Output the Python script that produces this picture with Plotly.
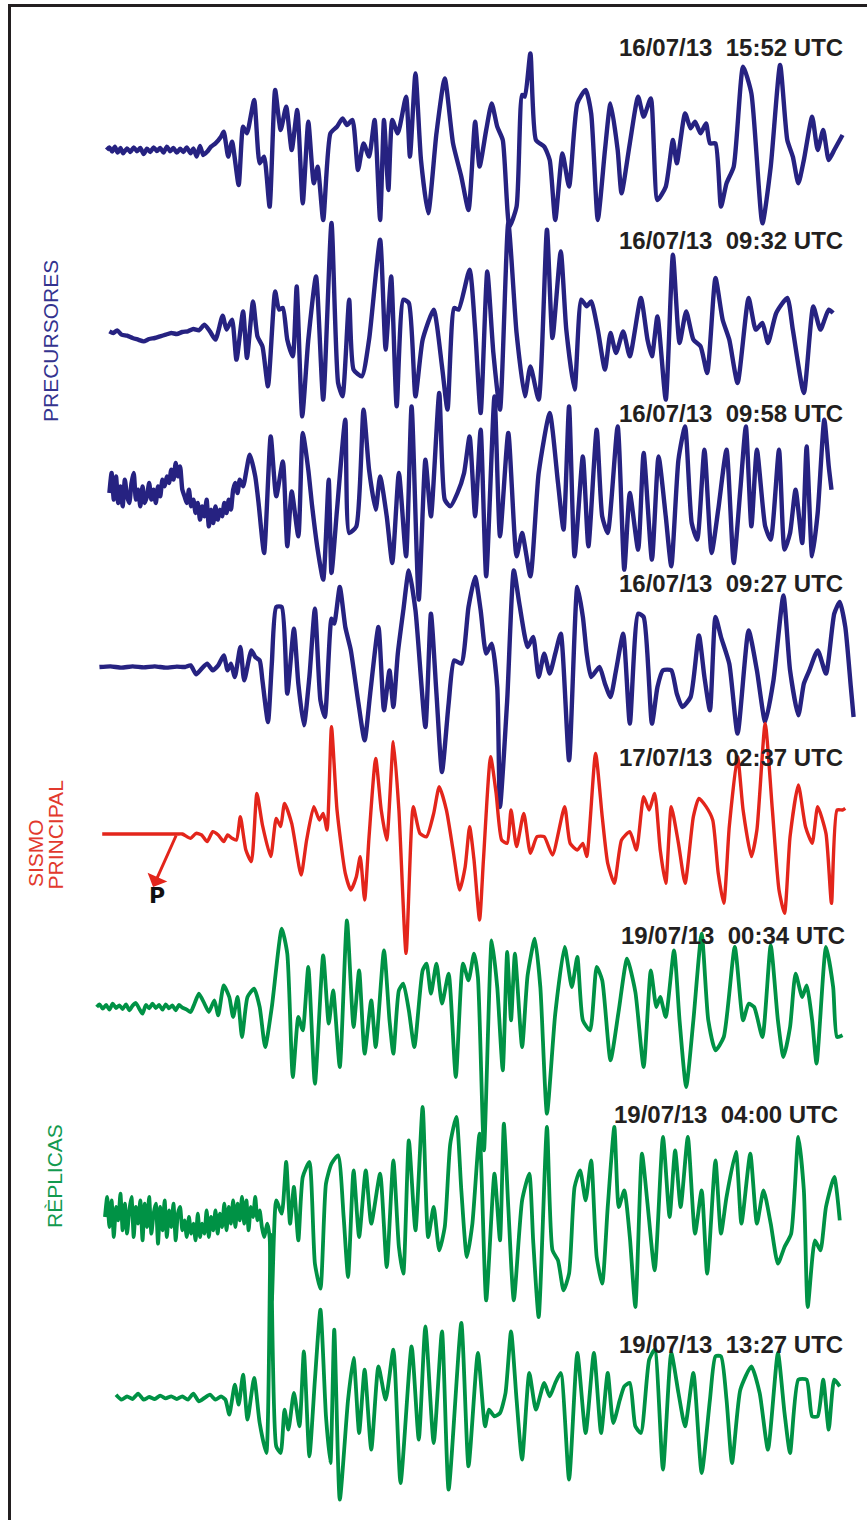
import plotly.graph_objects as go

# ---------------- data: (time sample, amplitude count) readings per record ----------------
rec_160713_1552 = [(193,0),(198,8),(203,-5),(208,10),(213,-8),(218,6),(223,-10),(230,5),(236,-6),(242,8),(248,-4),(254,6),(260,-12),(266,4),(272,-6),(278,8),(284,-3),(290,6),(296,-8),(302,10),(308,-4),(314,6),(320,-8),(326,4),(332,-6),(338,8),(345,-10),(350,5),(356,-20),(362,12),(368,-15),(375,-5),(382,10),(390,20),(400,40),(405,55),(413,-20),(420,25),(432,-105),(440,70),(447,50),(460,150),(470,-40),(478,-20),(488,-170),(498,180),(508,60),(518,130),(528,0),(538,120),(548,-160),(558,85),(568,-100),(575,-50),(585,-210),(598,50),(610,70),(620,95),(628,75),(638,90),(648,-60),(658,20),(668,-20),(678,90),(688,-210),(695,90),(703,-120),(710,90),(720,50),(735,160),(742,-20),(752,230),(762,-30),(775,-190),(790,50),(805,215),(820,20),(835,-80),(848,-180),(860,85),(868,-50),(880,60),(890,140),(900,70),(910,30),(922,-230),(935,-170),(945,165),(950,160),(960,290),(970,30),(985,10),(995,-30),(1005,-210),(1018,-10),(1030,-110),(1045,140),(1060,180),(1070,110),(1082,-210),(1095,0),(1105,140),(1118,0),(1125,-130),(1140,20),(1155,160),(1165,100),(1178,155),(1190,-150),(1205,-110),(1218,30),(1225,-40),(1240,110),(1250,65),(1258,85),(1268,50),(1278,80),(1285,20),(1295,20),(1305,-170),(1315,-100),(1328,-50),(1345,250),(1360,170),(1380,-220),(1395,-50),(1412,255),(1425,30),(1435,-20),(1445,-100),(1455,-30),(1470,100),(1480,0),(1490,60),(1500,-30),(1510,0),(1525,45)]

rec_160713_0932 = [(198,5),(205,0),(212,8),(220,-5),(230,-8),(240,-15),(250,-20),(260,-25),(270,-18),(280,-15),(290,-10),(300,-5),(310,0),(320,-3),(330,3),(340,5),(350,12),(360,8),(370,25),(380,5),(390,-20),(403,52),(410,10),(420,40),(428,-80),(440,65),(447,-75),(458,95),(466,-10),(475,-40),(485,-160),(498,125),(505,70),(512,75),(520,-20),(530,-70),(537,140),(547,-250),(558,-20),(572,170),(585,-200),(600,330),(612,-150),(620,-190),(632,100),(640,-110),(655,-130),(668,-20),(688,280),(698,-50),(708,170),(718,-220),(730,100),(740,90),(752,-190),(765,-20),(785,70),(800,-100),(810,-230),(822,75),(830,70),(850,190),(860,10),(870,-240),(882,185),(893,-60),(905,-230),(920,330),(935,0),(950,-190),(960,-100),(975,-200),(990,310),(1000,-15),(1015,245),(1025,10),(1040,-170),(1052,100),(1062,80),(1070,95),(1082,10),(1095,-110),(1105,0),(1115,-60),(1128,5),(1140,-70),(1160,105),(1172,-20),(1180,-70),(1190,50),(1205,-200),(1218,235),(1230,-30),(1242,65),(1255,-20),(1268,-40),(1280,-120),(1295,165),(1308,40),(1320,-20),(1335,-150),(1355,105),(1368,10),(1380,30),(1390,-30),(1405,60),(1425,105),(1435,10),(1455,-180),(1472,80),(1485,10),(1500,70),(1508,60)]

rec_160713_0958 = [(198,0),(202,60),(206,-20),(210,50),(214,-30),(218,20),(222,-40),(226,40),(230,-10),(234,-30),(238,30),(242,60),(246,-20),(250,10),(254,-40),(258,20),(262,-30),(266,-10),(270,30),(274,-20),(278,10),(282,-30),(286,20),(290,-10),(294,40),(298,20),(302,50),(306,30),(310,70),(314,40),(318,90),(322,50),(326,80),(330,10),(334,-10),(338,-30),(342,10),(346,-40),(350,-20),(354,-60),(358,-30),(362,-80),(366,-40),(370,-70),(374,-20),(378,-100),(382,-50),(386,-90),(390,-40),(394,-80),(398,-50),(402,-70),(406,-30),(410,-60),(414,-20),(418,-50),(422,10),(426,30),(430,0),(434,40),(440,20),(452,115),(462,50),(468,-30),(478,-180),(490,170),(500,-10),(512,95),(520,-160),(528,5),(540,-130),(548,180),(558,70),(565,-40),(575,-170),(585,-260),(595,40),(600,-240),(610,-50),(625,220),(632,-120),(645,-100),(658,250),(668,70),(680,-50),(688,50),(700,-70),(710,-210),(722,60),(735,-190),(745,260),(758,-320),(770,100),(780,-70),(795,300),(805,-20),(815,-40),(828,0),(840,60),(850,170),(860,-70),(870,190),(880,-250),(895,290),(905,-130),(920,180),(935,-190),(945,-120),(960,-250),(975,60),(995,240),(1010,30),(1020,-110),(1030,260),(1040,-190),(1055,110),(1065,-160),(1080,190),(1090,-70),(1100,-120),(1118,200),(1130,-230),(1140,0),(1155,-170),(1165,120),(1180,-200),(1192,110),(1205,-70),(1215,-220),(1228,100),(1240,200),(1252,-90),(1262,-140),(1275,130),(1288,-180),(1300,-50),(1315,130),(1328,-210),(1340,10),(1350,200),(1360,-100),(1370,130),(1385,-100),(1395,-140),(1410,130),(1420,-170),(1430,-120),(1440,10),(1452,-150),(1460,140),(1470,-190),(1480,-60),(1492,220),(1500,80),(1505,10)]

rec_160713_0927 = [(180,0),(200,2),(220,-2),(240,2),(260,-1),(280,2),(300,-2),(320,1),(335,0),(345,5),(355,-22),(365,-5),(375,10),(385,-10),(395,5),(405,35),(412,-10),(418,10),(425,-30),(435,60),(442,-40),(455,50),(462,30),(470,20),(475,-40),(485,-165),(492,10),(500,180),(510,180),(520,-80),(532,115),(540,-50),(550,-175),(560,-30),(570,175),(580,-100),(588,-150),(600,145),(605,130),(615,240),(625,120),(635,50),(648,-100),(660,-220),(670,-80),(685,120),(695,-130),(705,-10),(712,-120),(720,40),(730,170),(740,290),(752,170),(770,-180),(780,160),(790,-80),(800,-315),(812,-110),(822,20),(835,10),(848,180),(860,270),(870,170),(880,40),(890,70),(900,-60),(905,-420),(918,-100),(930,290),(940,190),(955,60),(965,90),(975,-30),(985,40),(995,-20),(1005,40),(1015,100),(1030,-280),(1045,240),(1055,150),(1062,40),(1070,-30),(1085,0),(1095,-50),(1105,-90),(1115,-10),(1128,100),(1140,-170),(1155,160),(1165,150),(1180,-170),(1190,-60),(1200,-10),(1215,-10),(1225,-80),(1235,-120),(1250,-90),(1265,95),(1275,-30),(1285,-130),(1295,150),(1305,90),(1320,10),(1335,-200),(1355,110),(1370,-10),(1385,-165),(1400,-40),(1418,215),(1430,-10),(1445,-145),(1455,-50),(1465,-10),(1480,50),(1495,-20),(1510,160),(1520,195),(1530,120),(1540,-60),(1545,-150)]

rec_170713_0237 = [(185,0),(320,0),(330,0),(345,-13),(355,2),(365,-3),(375,-23),(385,7),(395,-3),(405,-23),(412,-3),(420,-13),(428,-18),(435,52),(445,-48),(455,-83),(465,122),(475,27),(490,-68),(500,47),(508,22),(515,92),(528,32),(545,-123),(555,-18),(568,82),(578,42),(585,62),(592,12),(600,322),(610,72),(625,-118),(635,-168),(645,-128),(652,-68),(660,-198),(668,-8),(680,227),(690,72),(700,-18),(712,277),(722,72),(735,-358),(748,82),(760,2),(772,-8),(785,62),(795,142),(808,72),(820,-48),(832,-168),(842,-98),(850,22),(858,-78),(868,-258),(875,-78),(888,232),(898,122),(908,-18),(918,-28),(925,72),(935,-38),(948,62),(960,-58),(972,-8),(985,-8),(1000,-63),(1022,82),(1032,-28),(1045,-48),(1055,-28),(1062,-68),(1078,242),(1090,52),(1100,-88),(1112,-148),(1125,-18),(1140,7),(1152,-48),(1165,112),(1175,72),(1185,122),(1195,-48),(1205,-148),(1215,82),(1228,-28),(1240,-148),(1255,52),(1265,107),(1278,82),(1290,42),(1300,-118),(1310,-208),(1320,22),(1335,232),(1345,72),(1360,-68),(1370,12),(1385,332),(1398,72),(1410,-168),(1420,-238),(1430,-8),(1445,147),(1458,22),(1470,-28),(1480,82),(1495,2),(1505,-208),(1515,72),(1525,72),(1530,77)]

rec_190713_0034 = [(175,0),(180,8),(186,-5),(192,6),(198,-8),(204,10),(210,-3),(216,5),(222,-6),(228,8),(234,-10),(240,4),(246,12),(252,-5),(258,-20),(264,6),(270,-4),(276,10),(282,-3),(288,6),(294,-8),(300,8),(306,-4),(312,5),(318,-10),(324,6),(330,-2),(338,-8),(345,-15),(352,10),(360,40),(370,10),(378,-15),(388,20),(395,-25),(405,65),(415,30),(422,-30),(430,30),(438,-90),(448,30),(460,55),(470,0),(480,-120),(492,0),(510,235),(520,160),(530,-210),(540,-30),(548,-70),(558,120),(570,-230),(585,155),(595,-50),(603,50),(615,-180),(628,260),(640,-60),(650,110),(660,-140),(672,20),(680,-120),(695,170),(705,-40),(712,-140),(722,50),(730,70),(740,-10),(750,-120),(765,110),(772,130),(780,40),(790,130),(800,10),(812,100),(825,-210),(838,130),(848,80),(858,160),(865,90),(876,-430),(890,200),(900,60),(910,-190),(918,165),(925,-40),(932,160),(945,-120),(955,95),(968,205),(978,60),(990,-320),(1005,-20),(1022,180),(1035,60),(1045,150),(1055,-40),(1068,-70),(1080,120),(1090,80),(1105,-160),(1120,-10),(1135,145),(1150,45),(1165,-180),(1178,110),(1188,0),(1195,30),(1205,-30),(1220,170),(1230,-40),(1242,-240),(1255,-40),(1270,220),(1282,-40),(1295,-130),(1310,-90),(1330,180),(1345,-40),(1355,10),(1365,0),(1380,-90),(1395,185),(1408,-40),(1418,-150),(1430,-60),(1440,100),(1452,30),(1460,65),(1470,-40),(1478,-170),(1495,180),(1508,60),(1515,-90),(1525,-85)]

rec_190713_0400 = [(190,0),(194,60),(198,-30),(202,50),(206,-60),(210,30),(214,-10),(218,70),(222,-40),(226,40),(230,-50),(234,20),(238,60),(242,-60),(246,30),(250,-20),(254,50),(258,-70),(262,40),(266,-30),(270,60),(274,-50),(278,10),(282,40),(286,-80),(290,30),(294,-40),(298,50),(302,-60),(306,20),(310,-30),(314,40),(318,-70),(322,10),(326,30),(330,-40),(334,-10),(338,-60),(342,0),(346,-50),(350,-20),(354,-70),(358,10),(362,-60),(366,-20),(370,-50),(374,20),(378,-60),(382,0),(386,-40),(390,20),(394,-50),(398,10),(402,-30),(406,40),(410,-40),(414,30),(418,-20),(422,50),(426,-30),(430,40),(434,-10),(438,60),(442,-20),(446,50),(450,-40),(454,30),(458,0),(462,60),(466,-10),(470,20),(474,-30),(478,-60),(484,-20),(488,-60),(492,-250),(500,50),(510,10),(518,165),(525,-20),(532,90),(540,-70),(548,120),(560,165),(570,-140),(580,-215),(590,100),(600,160),(612,185),(622,0),(630,-180),(640,140),(650,-60),(662,140),(672,-20),(688,130),(700,-150),(712,170),(722,-90),(730,-170),(740,230),(752,-40),(765,330),(775,-60),(785,30),(795,-100),(805,-30),(815,220),(826,300),(835,80),(845,-120),(855,-20),(868,250),(880,-250),(895,130),(905,-70),(912,280),(920,30),(930,-250),(945,50),(958,130),(965,-70),(975,-300),(990,270),(1000,-100),(1010,-130),(1020,-220),(1030,-170),(1040,90),(1050,140),(1060,50),(1070,170),(1080,-120),(1090,-200),(1100,30),(1112,270),(1120,30),(1130,80),(1140,-60),(1150,-270),(1162,190),(1172,40),(1185,-160),(1200,240),(1212,0),(1222,200),(1232,30),(1245,240),(1258,-50),(1270,80),(1280,-170),(1295,170),(1305,-50),(1315,60),(1332,195),(1342,-20),(1358,190),(1370,-20),(1382,80),(1395,-20),(1408,-140),(1420,-90),(1432,-50),(1445,240),(1455,80),(1462,-270),(1475,-70),(1485,-100),(1495,30),(1510,120),(1520,-10)]

rec_190713_1327 = [(210,10),(220,-5),(230,5),(240,-3),(250,13),(260,-5),(270,3),(280,-3),(290,7),(300,-1),(310,5),(320,-3),(330,5),(340,-5),(350,13),(360,-10),(370,0),(380,10),(390,-5),(400,5),(408,-5),(415,-50),(425,40),(432,-20),(440,70),(448,-65),(460,60),(470,-75),(482,-165),(490,490),(500,-145),(508,-165),(515,-35),(522,-95),(532,15),(542,-85),(550,140),(560,-175),(570,55),(580,265),(590,-55),(598,-195),(605,205),(615,-305),(630,-5),(640,120),(650,-105),(660,85),(672,-155),(685,95),(698,-5),(712,145),(725,-255),(745,155),(758,-125),(770,215),(785,-135),(800,200),(812,-275),(835,225),(848,-205),(865,135),(878,-85),(885,-35),(895,-55),(905,-45),(915,15),(925,200),(935,-5),(945,-185),(958,75),(970,-35),(985,45),(995,5),(1005,45),(1015,75),(1030,-245),(1045,135),(1060,-105),(1075,135),(1088,-105),(1100,75),(1110,-75),(1122,-5),(1130,35),(1140,45),(1150,-85),(1160,-105),(1175,115),(1185,145),(1200,-215),(1215,135),(1228,15),(1240,-85),(1255,75),(1270,-225),(1285,-5),(1295,125),(1305,125),(1315,-5),(1325,-195),(1340,25),(1360,95),(1375,15),(1390,-155),(1408,135),(1420,-45),(1430,-165),(1445,55),(1460,55),(1470,-55),(1480,-55),(1490,55),(1500,-95),(1510,55),(1520,35)]

records = [rec_160713_1552, rec_160713_0932, rec_160713_0958, rec_160713_0927,
           rec_170713_0237, rec_190713_0034, rec_190713_0400, rec_190713_1327]
labels = ["16/07/13  15:52 UTC", "16/07/13  09:32 UTC", "16/07/13  09:58 UTC", "16/07/13  09:27 UTC",
          "17/07/13  02:37 UTC", "19/07/13  00:34 UTC", "19/07/13  04:00 UTC", "19/07/13  13:27 UTC"]
groups = ["pre", "pre", "pre", "pre", "main", "rep", "rep", "rep"]
p_onset = 320  # P arrival sample on main shock

# ---------------- layout constants ----------------
W, H = 867, 1520
TX = 1.81      # samples per pixel
AY = 3.0       # counts per pixel
offsets = [150, 333, 493, 667, 834, 1007, 1217, 1398]       # trace baselines (px from top)
label_y = [47, 240, 413, 583, 757, 935, 1114, 1344]
label_xr = [845, 845, 845, 845, 845, 847, 840, 845]
colors = {"pre": "#262281", "main": "#e3251b", "rep": "#009245"}
widths = {"pre": 4.4, "main": 3.4, "rep": 3.8}

fig = go.Figure()
for rec, g, off in zip(records, groups, offsets):
    t = [p[0] for p in rec]
    a = [p[1] - AY * off for p in rec]
    fig.add_trace(go.Scatter(x=t, y=a, mode="lines",
                             line=dict(color=colors[g], width=widths[g], shape="spline", smoothing=0.55),
                             hoverinfo="skip", showlegend=False))

ann = []
for txt, y, xr in zip(labels, label_y, label_xr):
    ann.append(dict(text="<b>" + txt.replace("  ", "\u00a0 ") + "</b>", xref="paper", yref="paper",
                    x=xr / W, y=1 - y / H, xanchor="right", yanchor="middle", showarrow=False,
                    font=dict(family="Liberation Sans, Arial, sans-serif", size=24, color="#231f20")))

side = [("PRECURSORES", 50, 341, "#34338f"),
        ("SISMO", 35, 853, "#e2392e"),
        ("PRINCIPAL", 55.5, 835, "#e2392e"),
        ("RÈPLICAS", 54, 1176, "#139a4f")]
for txt, x, y, c in side:
    ann.append(dict(text=txt, xref="paper", yref="paper", x=x / W, y=1 - y / H,
                    xanchor="center", yanchor="middle", textangle=-90, showarrow=False,
                    font=dict(family="Liberation Sans, Arial, sans-serif", size=21, color=c)))

# P arrow on the main shock
main_off = offsets[4]
ann.append(dict(x=277, y=-159 - AY * main_off, xref="x", yref="y",
                ax=p_onset, ay=0 - AY * main_off, axref="x", ayref="y",
                text="", showarrow=True, arrowhead=1, arrowsize=1.2, arrowwidth=3,
                arrowcolor="#e3251b"))
ann.append(dict(text="<b>P</b>", x=157 / W, y=1 - 896 / H, xref="paper", yref="paper",
                showarrow=False, xanchor="center", yanchor="middle",
                font=dict(family="DejaVu Sans, Liberation Sans, sans-serif", size=22, color="#111111")))

shapes = [
    dict(type="line", xref="paper", yref="paper", x0=8 / W, x1=1, y0=1 - 5.5 / H, y1=1 - 5.5 / H,
         line=dict(color="#231f20", width=3)),
    dict(type="line", xref="paper", yref="paper", x0=9.5 / W, x1=9.5 / W, y0=1 - 4 / H, y1=0,
         line=dict(color="#231f20", width=3)),
]

fig.update_layout(
    width=W, height=H, margin=dict(l=0, r=0, t=0, b=0),
    paper_bgcolor="white", plot_bgcolor="white",
    xaxis=dict(range=[0, W * TX], visible=False, fixedrange=True),
    yaxis=dict(range=[-H * AY, 0], visible=False, fixedrange=True),
    annotations=ann, shapes=shapes, showlegend=False,
)
fig.write_html("out.html", config={"displayModeBar": False},
               post_script="document.body.style.margin='0';document.body.style.overflow='hidden';")
